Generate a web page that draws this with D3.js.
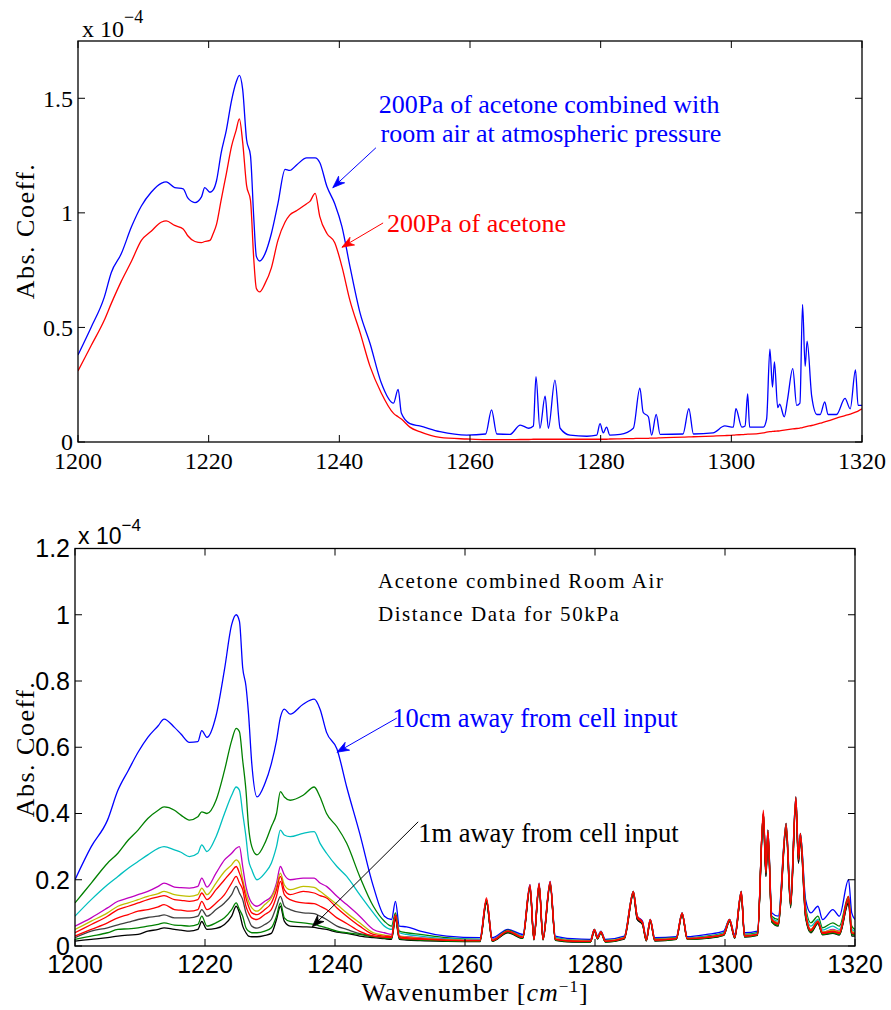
<!DOCTYPE html>
<html>
<head>
<meta charset="UTF-8">
<script src="https://cdnjs.cloudflare.com/ajax/libs/d3/7.8.5/d3.min.js"></script>
<style>
  body { margin: 0; background: #fff; }
  svg { display: block; }
  .serif { font-family: "Liberation Serif", "DejaVu Serif", serif; }
  .sans { font-family: "Liberation Sans", Arial, sans-serif; }
</style>
</head>
<body>
<div id="chart"></div>
<script>
// ---------- top panel data (values x 1e-4) ----------
const wnTop = [1200,1202,1204,1205.1,1206.6,1208.2,1209.7,1211.2,1212.8,1213.5,1214.8,1216.1,1216.8,1217.9,1218.9,1219.4,1220.2,1220.7,1221.2,1221.9,1222.7,1223.5,1224.2,1224.7,1225.2,1225.8,1226.4,1226.9,1227.3,1227.8,1228.6,1229.6,1230.6,1231.7,1232.4,1233.5,1235,1235.5,1236.3,1237,1238.1,1239.3,1240.4,1241.6,1243.2,1244.7,1246.4,1248.3,1249,1249.5,1250.8,1252.3,1255.4,1259.5,1262.4,1263.3,1264.1,1266.1,1267.7,1269,1269.7,1270.1,1270.7,1271.5,1272,1273,1273.8,1275.3,1277.9,1279.4,1279.9,1280.4,1280.9,1281.4,1283,1285,1286,1286.5,1287.3,1287.8,1288.5,1289.1,1292.6,1293.5,1294.2,1297.2,1299,1300.3,1300.7,1301.6,1302.1,1302.5,1302.8,1304.9,1305.4,1305.9,1306.3,1306.6,1307.1,1307.4,1308.1,1308.6,1309.4,1310,1310.5,1310.9,1311.3,1311.6,1312.3,1313.1,1313.6,1314.3,1314.8,1316.1,1317.4,1318.2,1319,1319.4,1320];
const acetoneAir = [0.38,0.50,0.63,0.74,0.82,0.94,1.03,1.09,1.13,1.135,1.11,1.105,1.065,1.045,1.07,1.11,1.09,1.10,1.14,1.26,1.36,1.49,1.57,1.60,1.54,1.32,1.25,0.98,0.81,0.79,0.82,0.91,1.04,1.19,1.185,1.21,1.24,1.24,1.24,1.22,1.115,1.04,0.94,0.77,0.56,0.43,0.26,0.17,0.23,0.125,0.08,0.07,0.045,0.03,0.035,0.14,0.035,0.033,0.074,0.06,0.07,0.285,0.06,0.20,0.06,0.27,0.06,0.03,0.025,0.03,0.08,0.04,0.065,0.03,0.033,0.06,0.235,0.13,0.11,0.03,0.12,0.033,0.035,0.145,0.035,0.04,0.07,0.065,0.145,0.065,0.07,0.21,0.065,0.065,0.10,0.405,0.24,0.35,0.15,0.165,0.11,0.185,0.32,0.16,0.17,0.60,0.33,0.44,0.20,0.12,0.12,0.175,0.12,0.12,0.19,0.145,0.315,0.16,0.16];
const acetoneOnly = [0.31,0.42,0.53,0.605,0.70,0.79,0.88,0.92,0.96,0.965,0.945,0.93,0.90,0.875,0.87,0.875,0.88,0.91,0.95,1.055,1.17,1.29,1.36,1.41,1.31,1.12,1.055,0.80,0.67,0.655,0.69,0.76,0.88,0.96,0.99,1.01,1.04,1.05,1.085,0.985,0.91,0.87,0.765,0.62,0.475,0.33,0.215,0.125,0.11,0.10,0.065,0.045,0.02,0.013,0.01,0.01,0.01,0.01,0.011,0.011,0.012,0.012,0.012,0.012,0.012,0.012,0.012,0.012,0.012,0.012,0.012,0.012,0.012,0.013,0.014,0.015,0.016,0.016,0.016,0.017,0.017,0.018,0.021,0.022,0.023,0.026,0.028,0.03,0.031,0.032,0.033,0.034,0.034,0.04,0.043,0.045,0.046,0.047,0.048,0.049,0.052,0.054,0.057,0.059,0.061,0.063,0.066,0.068,0.072,0.078,0.082,0.088,0.092,0.104,0.115,0.122,0.13,0.135,0.145];

// ---------- bottom panel data (values x 1e-4) ----------
const wnBot = [1200,1202.5,1205,1206.6,1208.2,1209.7,1211.2,1212.8,1213.7,1215.3,1216.3,1217.6,1218.9,1219.5,1220.3,1221.7,1223,1224.1,1224.8,1225.3,1225.8,1226.3,1226.7,1227.2,1228,1229.2,1230.2,1231,1231.6,1232.2,1233.1,1235.1,1236.8,1237.7,1238.7,1240.3,1241.8,1243.8,1245.9,1247.6,1248.7,1249.3,1249.9,1251,1253.1,1257.2,1262.3,1263.3,1264.2,1266.6,1268.9,1270,1270.6,1271.4,1272,1273.1,1273.9,1276.5,1279.3,1279.9,1280.4,1280.9,1281.6,1284.5,1285.9,1286.5,1287.3,1287.9,1288.5,1289.2,1292.5,1293.4,1294.2,1297.2,1299.8,1300.7,1301.5,1302.5,1303,1305,1305.9,1306.3,1306.6,1307.2,1308.2,1309.4,1310.1,1310.9,1311.3,1311.6,1312.4,1313.2,1314.3,1315,1316.6,1317.6,1319,1319.5,1320];
const d10cm   = [0.20,0.30,0.38,0.47,0.53,0.585,0.63,0.665,0.685,0.66,0.64,0.615,0.617,0.65,0.63,0.695,0.835,0.97,1.00,0.98,0.84,0.785,0.70,0.55,0.45,0.49,0.55,0.62,0.69,0.715,0.70,0.73,0.745,0.715,0.645,0.595,0.48,0.34,0.18,0.09,0.08,0.135,0.06,0.058,0.045,0.03,0.025,0.14,0.025,0.05,0.035,0.185,0.03,0.19,0.03,0.195,0.03,0.022,0.02,0.05,0.03,0.045,0.02,0.03,0.165,0.09,0.075,0.025,0.08,0.025,0.028,0.10,0.028,0.035,0.045,0.08,0.035,0.165,0.04,0.045,0.40,0.24,0.35,0.10,0.09,0.37,0.15,0.45,0.28,0.34,0.14,0.10,0.12,0.08,0.11,0.09,0.20,0.10,0.08];
const d20cm   = [0.13,0.19,0.25,0.28,0.32,0.35,0.385,0.41,0.42,0.41,0.395,0.38,0.39,0.405,0.40,0.44,0.53,0.62,0.657,0.647,0.56,0.47,0.36,0.30,0.275,0.31,0.36,0.40,0.466,0.45,0.44,0.455,0.48,0.45,0.40,0.36,0.31,0.21,0.12,0.075,0.06,0.10,0.045,0.04,0.035,0.025,0.02,0.135,0.02,0.048,0.03,0.18,0.025,0.185,0.025,0.19,0.025,0.018,0.017,0.05,0.027,0.043,0.017,0.027,0.165,0.09,0.07,0.022,0.08,0.022,0.025,0.10,0.025,0.03,0.04,0.08,0.03,0.165,0.035,0.04,0.40,0.23,0.35,0.09,0.08,0.37,0.14,0.45,0.27,0.34,0.12,0.07,0.09,0.055,0.07,0.06,0.15,0.06,0.05];
const d30cm   = [0.09,0.14,0.185,0.21,0.235,0.255,0.275,0.295,0.30,0.29,0.283,0.27,0.28,0.305,0.285,0.33,0.40,0.455,0.48,0.47,0.40,0.33,0.26,0.23,0.20,0.22,0.25,0.30,0.35,0.335,0.33,0.34,0.345,0.31,0.28,0.24,0.21,0.155,0.10,0.06,0.05,0.09,0.04,0.035,0.03,0.022,0.02,0.13,0.02,0.045,0.03,0.18,0.025,0.185,0.025,0.19,0.025,0.017,0.016,0.048,0.026,0.042,0.016,0.026,0.16,0.085,0.07,0.02,0.078,0.02,0.024,0.098,0.024,0.028,0.038,0.078,0.028,0.16,0.033,0.038,0.39,0.22,0.34,0.085,0.075,0.36,0.13,0.44,0.26,0.33,0.11,0.06,0.08,0.048,0.06,0.05,0.14,0.05,0.045];
const d40cm   = [0.06,0.085,0.115,0.135,0.145,0.155,0.165,0.18,0.19,0.178,0.176,0.175,0.18,0.205,0.178,0.22,0.26,0.28,0.295,0.30,0.24,0.18,0.15,0.13,0.12,0.135,0.15,0.19,0.24,0.215,0.20,0.205,0.205,0.19,0.18,0.15,0.125,0.09,0.05,0.04,0.035,0.09,0.03,0.028,0.025,0.02,0.018,0.14,0.02,0.045,0.028,0.18,0.023,0.185,0.023,0.19,0.022,0.016,0.015,0.048,0.025,0.042,0.015,0.025,0.16,0.085,0.07,0.02,0.078,0.02,0.023,0.098,0.023,0.027,0.036,0.078,0.027,0.16,0.032,0.036,0.40,0.22,0.34,0.08,0.07,0.36,0.13,0.44,0.26,0.33,0.10,0.05,0.075,0.042,0.05,0.045,0.14,0.045,0.04];
const d50cm   = [0.05,0.075,0.10,0.12,0.13,0.14,0.15,0.158,0.165,0.155,0.152,0.15,0.155,0.175,0.155,0.19,0.225,0.245,0.26,0.25,0.20,0.16,0.135,0.115,0.105,0.125,0.145,0.18,0.22,0.185,0.17,0.18,0.177,0.165,0.15,0.125,0.10,0.07,0.04,0.033,0.03,0.09,0.03,0.027,0.024,0.019,0.017,0.14,0.018,0.045,0.028,0.18,0.022,0.185,0.022,0.19,0.022,0.016,0.015,0.048,0.025,0.042,0.015,0.025,0.16,0.085,0.07,0.02,0.078,0.02,0.023,0.098,0.023,0.027,0.036,0.078,0.027,0.16,0.032,0.036,0.40,0.22,0.34,0.08,0.07,0.36,0.13,0.44,0.26,0.33,0.10,0.05,0.075,0.042,0.048,0.043,0.14,0.045,0.04];
const d60cm   = [0.04,0.065,0.09,0.11,0.12,0.13,0.14,0.148,0.152,0.14,0.138,0.135,0.14,0.16,0.14,0.17,0.20,0.225,0.24,0.22,0.19,0.145,0.12,0.10,0.095,0.11,0.13,0.17,0.21,0.17,0.155,0.165,0.16,0.152,0.145,0.115,0.09,0.06,0.035,0.03,0.028,0.095,0.028,0.025,0.022,0.018,0.016,0.145,0.017,0.045,0.027,0.185,0.02,0.19,0.02,0.195,0.02,0.015,0.014,0.05,0.024,0.043,0.014,0.024,0.165,0.09,0.072,0.018,0.08,0.018,0.022,0.10,0.022,0.026,0.035,0.08,0.026,0.165,0.03,0.035,0.41,0.23,0.35,0.08,0.068,0.37,0.13,0.45,0.27,0.34,0.10,0.048,0.075,0.04,0.045,0.04,0.15,0.04,0.038];
const d70cm   = [0.03,0.05,0.07,0.085,0.095,0.105,0.11,0.118,0.125,0.11,0.108,0.105,0.11,0.135,0.11,0.13,0.155,0.19,0.21,0.19,0.17,0.12,0.10,0.085,0.08,0.095,0.11,0.15,0.195,0.155,0.14,0.13,0.128,0.12,0.11,0.085,0.068,0.044,0.03,0.027,0.025,0.09,0.025,0.022,0.02,0.017,0.016,0.14,0.016,0.044,0.026,0.18,0.02,0.185,0.02,0.19,0.02,0.015,0.014,0.048,0.024,0.042,0.014,0.024,0.16,0.085,0.07,0.018,0.078,0.018,0.022,0.098,0.022,0.026,0.035,0.078,0.026,0.16,0.03,0.035,0.40,0.22,0.34,0.078,0.066,0.36,0.125,0.44,0.26,0.33,0.095,0.046,0.072,0.038,0.043,0.038,0.14,0.04,0.036];
const d80cm   = [0.025,0.045,0.055,0.064,0.072,0.08,0.086,0.09,0.094,0.085,0.085,0.085,0.09,0.11,0.09,0.11,0.13,0.155,0.18,0.16,0.14,0.10,0.08,0.06,0.054,0.065,0.08,0.12,0.15,0.12,0.11,0.10,0.098,0.09,0.08,0.06,0.05,0.037,0.03,0.025,0.024,0.085,0.024,0.021,0.019,0.016,0.015,0.13,0.016,0.042,0.025,0.17,0.02,0.175,0.02,0.18,0.019,0.014,0.013,0.046,0.023,0.04,0.013,0.023,0.155,0.08,0.066,0.017,0.075,0.017,0.021,0.095,0.021,0.025,0.034,0.075,0.025,0.155,0.029,0.034,0.38,0.21,0.33,0.075,0.063,0.35,0.12,0.43,0.25,0.32,0.09,0.044,0.07,0.036,0.04,0.036,0.13,0.035,0.034];
const d90cm   = [0.02,0.03,0.04,0.05,0.052,0.055,0.06,0.065,0.07,0.063,0.062,0.06,0.065,0.09,0.06,0.07,0.085,0.11,0.13,0.11,0.09,0.055,0.045,0.04,0.04,0.045,0.055,0.09,0.13,0.085,0.074,0.07,0.065,0.06,0.055,0.045,0.04,0.035,0.028,0.024,0.023,0.085,0.022,0.02,0.018,0.015,0.014,0.135,0.015,0.042,0.024,0.18,0.019,0.185,0.019,0.19,0.018,0.013,0.012,0.046,0.022,0.04,0.012,0.022,0.16,0.085,0.068,0.016,0.076,0.016,0.02,0.096,0.02,0.024,0.033,0.076,0.024,0.16,0.028,0.033,0.40,0.22,0.34,0.074,0.062,0.36,0.12,0.44,0.26,0.33,0.09,0.042,0.07,0.035,0.04,0.035,0.14,0.035,0.033];
const d1m     = [0.015,0.02,0.025,0.03,0.033,0.035,0.045,0.05,0.055,0.05,0.048,0.045,0.05,0.074,0.05,0.053,0.065,0.09,0.12,0.10,0.06,0.04,0.03,0.028,0.028,0.032,0.038,0.08,0.12,0.075,0.06,0.058,0.056,0.053,0.05,0.042,0.038,0.03,0.025,0.022,0.02,0.08,0.02,0.018,0.016,0.014,0.013,0.13,0.014,0.04,0.023,0.175,0.018,0.18,0.018,0.185,0.017,0.012,0.012,0.045,0.021,0.04,0.012,0.021,0.155,0.08,0.065,0.015,0.074,0.015,0.02,0.094,0.02,0.023,0.032,0.074,0.023,0.155,0.027,0.032,0.39,0.21,0.33,0.072,0.06,0.35,0.115,0.43,0.25,0.32,0.085,0.04,0.068,0.034,0.038,0.033,0.13,0.03,0.03];

const bottomSeries = [
  { name: "10cm", values: d10cm, color: "#0000ff" },
  { name: "20cm", values: d20cm, color: "#008000" },
  { name: "30cm", values: d30cm, color: "#00bfbf" },
  { name: "40cm", values: d40cm, color: "#bf00bf" },
  { name: "50cm", values: d50cm, color: "#bfbf00" },
  { name: "80cm", values: d80cm, color: "#404040" },
  { name: "1m",   values: d1m,   color: "#000000" },
  { name: "90cm", values: d90cm, color: "#008000" },
  { name: "70cm", values: d70cm, color: "#ff0000" },
  { name: "60cm", values: d60cm, color: "#ff0000" }
];

const xTicks = [1200, 1220, 1240, 1260, 1280, 1300, 1320];
const yTicksTop = [0, 0.5, 1, 1.5];
const yTicksBot = [0, 0.2, 0.4, 0.6, 0.8, 1, 1.2];

const W = 891, H = 1010;
const svg = d3.select("#chart").append("svg").attr("width", W).attr("height", H);

function drawFrame(g, x, y, yTicks, fontClass, fontSize, yFmt) {
  const [x0, x1] = x.range();
  const [y0, y1] = y.range();
  const tick = 7;
  // ticks on all four sides, pointing inwards
  xTicks.forEach(t => {
    g.append("line").attr("x1", x(t)).attr("x2", x(t)).attr("y1", y0).attr("y2", y0 - tick).attr("stroke", "#000");
    g.append("line").attr("x1", x(t)).attr("x2", x(t)).attr("y1", y1).attr("y2", y1 + tick).attr("stroke", "#000");
    g.append("text").attr("class", fontClass).attr("x", x(t)).attr("y", y0 + 27)
      .attr("text-anchor", "middle").style("font-size", fontSize + "px").text(t);
  });
  yTicks.forEach(t => {
    g.append("line").attr("x1", x0).attr("x2", x0 + tick).attr("y1", y(t)).attr("y2", y(t)).attr("stroke", "#000");
    g.append("line").attr("x1", x1).attr("x2", x1 - tick).attr("y1", y(t)).attr("y2", y(t)).attr("stroke", "#000");
    g.append("text").attr("class", fontClass).attr("x", x0 - 5).attr("y", y(t))
      .attr("dy", "0.35em").attr("text-anchor", "end").style("font-size", fontSize + "px").text(yFmt(t));
  });
  g.append("rect").attr("x", x0).attr("y", y1).attr("width", x1 - x0).attr("height", y0 - y1)
    .attr("fill", "none").attr("stroke", "#000").attr("stroke-width", 1.3);
}

function arrow(g, x, y, a, color) {
  const xa = x(a.from[0]), ya = y(a.from[1]), xb = x(a.to[0]), yb = y(a.to[1]);
  g.append("line").attr("x1", xa).attr("y1", ya).attr("x2", xb).attr("y2", yb)
    .attr("stroke", color).attr("stroke-width", 1);
  const ang = Math.atan2(yb - ya, xb - xa);
  const L = 12, Wd = 4.5;
  const bx = xb - L * Math.cos(ang), by = yb - L * Math.sin(ang);
  const mx = xb - 0.7 * L * Math.cos(ang), my = yb - 0.7 * L * Math.sin(ang);
  const px = -Math.sin(ang) * Wd, py = Math.cos(ang) * Wd;
  g.append("path")
    .attr("d", `M${xb},${yb}L${bx + px},${by + py}L${mx},${my}L${bx - px},${by - py}Z`)
    .attr("fill", color).attr("stroke", color).attr("stroke-width", 0.8);
}

// ---------- top panel ----------
const xT = d3.scaleLinear().domain([1200, 1320]).range([78, 862]);
const yT = d3.scaleLinear().domain([0, 1.75]).range([442, 41]);
const gT = svg.append("g");
gT.append("clipPath").attr("id", "clipT").append("rect")
  .attr("x", 78).attr("y", 41).attr("width", 784).attr("height", 401);

const lineT = vals => d3.line().curve(d3.curveMonotoneX).x((d, i) => xT(wnTop[i])).y(d => yT(d))(vals);
gT.append("path").attr("d", lineT(acetoneOnly)).attr("fill", "none")
  .attr("stroke", "#ff0000").attr("stroke-width", 1.3).attr("clip-path", "url(#clipT)");
gT.append("path").attr("d", lineT(acetoneAir)).attr("fill", "none")
  .attr("stroke", "#0000ff").attr("stroke-width", 1.3).attr("clip-path", "url(#clipT)");

drawFrame(gT, xT, yT, yTicksTop, "serif", 24, d => d);

gT.append("text").attr("class", "serif").attr("x", 82).attr("y", 37).style("font-size", "24px")
  .text("x 10").append("tspan").attr("dy", -14).style("font-size", "18px").text("\u22124");

gT.append("text").attr("class", "serif").attr("transform", "translate(34,231) rotate(-90)")
  .attr("text-anchor", "middle").style("font-size", "26px").style("letter-spacing", "1.5px").text("Abs. Coeff.");

gT.append("text").attr("class", "serif").attr("x", xT(1272.1)).attr("y", yT(1.437))
  .attr("text-anchor", "middle").attr("fill", "#0000ff").style("font-size", "26px")
  .text("200Pa of acetone combined with");
gT.append("text").attr("class", "serif").attr("x", xT(1272.4)).attr("y", yT(1.31))
  .attr("text-anchor", "middle").attr("fill", "#0000ff").style("font-size", "26px")
  .text("room air at atmospheric pressure");
gT.append("text").attr("class", "serif").attr("x", xT(1247.3)).attr("y", yT(0.917))
  .attr("fill", "#ff0000").style("font-size", "26px").text("200Pa of acetone");
arrow(gT, xT, yT, { from: [1245.6, 1.284], to: [1239.0, 1.11] }, "#0000ff");
arrow(gT, xT, yT, { from: [1246.7, 0.956], to: [1240.4, 0.85] }, "#ff0000");

// ---------- bottom panel ----------
const xB = d3.scaleLinear().domain([1200, 1320]).range([75, 855]);
const yB = d3.scaleLinear().domain([0, 1.2]).range([946, 548.5]);
const gB = svg.append("g");
gB.append("clipPath").attr("id", "clipB").append("rect")
  .attr("x", 75).attr("y", 548.5).attr("width", 780).attr("height", 397.5);

const lineB = d3.line().curve(d3.curveMonotoneX).x((d, i) => xB(wnBot[i])).y(d => yB(d));
gB.selectAll(".series").data(bottomSeries).enter().append("path")
  .attr("class", "series").attr("d", d => lineB(d.values)).attr("fill", "none")
  .attr("stroke", d => d.color).attr("stroke-width", 1.3).attr("clip-path", "url(#clipB)");

drawFrame(gB, xB, yB, yTicksBot, "sans", 25, d => d);

gB.append("text").attr("class", "sans").attr("x", 78).attr("y", 544).style("font-size", "23px")
  .text("x 10").append("tspan").attr("dy", -13).style("font-size", "17px").text("\u22124");

gB.append("text").attr("class", "serif").attr("transform", "translate(34,749) rotate(-90)")
  .attr("text-anchor", "middle").style("font-size", "26px").style("letter-spacing", "1.5px").text("Abs. Coeff.");

const xl = gB.append("text").attr("class", "serif").attr("x", 475).attr("y", 1001)
  .attr("text-anchor", "middle").style("font-size", "26px").style("letter-spacing", "1px");
xl.append("tspan").text("Wavenumber [");
xl.append("tspan").style("font-style", "italic").text("cm");
xl.append("tspan").attr("dy", -9).style("font-size", "17px").text("\u22121");
xl.append("tspan").attr("dy", 9).text("]");

gB.append("text").attr("class", "serif").attr("x", xB(1246.6)).attr("y", yB(1.081))
  .style("font-size", "21px").style("letter-spacing", "1.6px").text("Acetone combined Room Air");
gB.append("text").attr("class", "serif").attr("x", xB(1246.6)).attr("y", yB(0.982))
  .style("font-size", "21px").style("letter-spacing", "1.6px").text("Distance Data for 50kPa");
gB.append("text").attr("class", "serif").attr("x", xB(1248.8)).attr("y", yB(0.66))
  .attr("fill", "#0000ff").style("font-size", "26.5px").text("10cm away from cell input");
gB.append("text").attr("class", "serif").attr("x", xB(1252.8)).attr("y", yB(0.315))
  .attr("fill", "#000").style("font-size", "26.5px").text("1m away from cell input");
arrow(gB, xB, yB, { from: [1249.5, 0.688], to: [1240.3, 0.585] }, "#0000ff");
arrow(gB, xB, yB, { from: [1252.8, 0.375], to: [1236.5, 0.058] }, "#000000");
</script>
</body>
</html>
